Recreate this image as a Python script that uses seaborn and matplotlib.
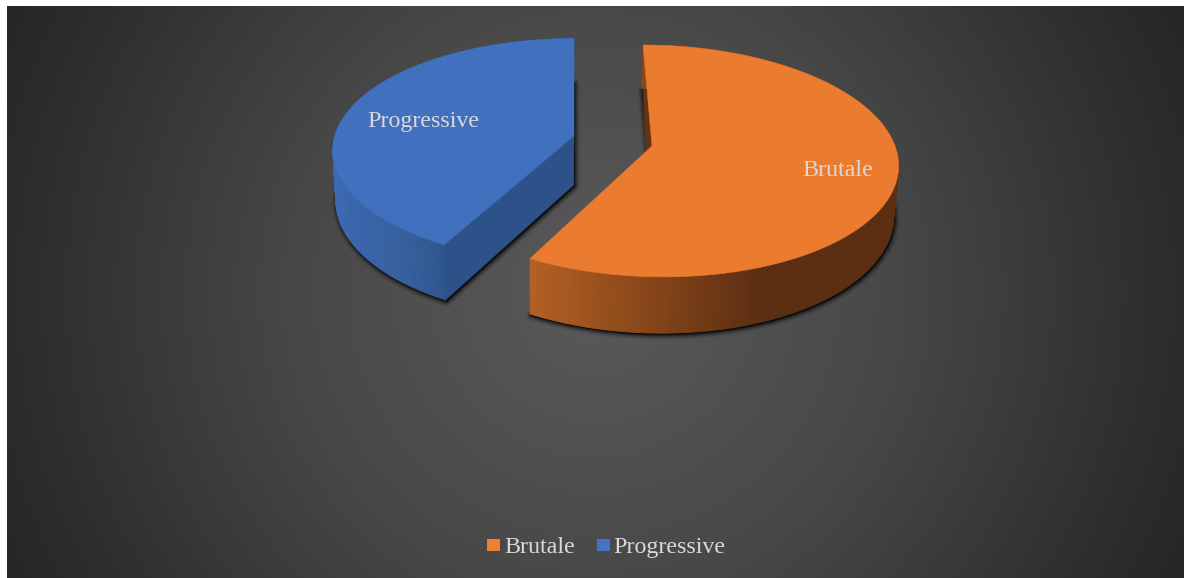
import numpy as np
import matplotlib
matplotlib.use("Agg")
import matplotlib.pyplot as plt
from matplotlib.colors import LinearSegmentedColormap, to_rgb
from matplotlib.patches import Polygon, Rectangle
import seaborn as sns

# Slice values, in drawing order clockwise from twelve o'clock
categories = ["Brutale", "Progressive"]
shares = [58, 42]

sns.set_theme(style="white")
plt.rcParams["font.family"] = ["Liberation Serif", "DejaVu Serif"]

palette = sns.color_palette(["#EF7F32", "#4472C4"])
faces = sns.color_palette(["#EA7B2F", "#4170BE"])
TEXT = "#D9D9D9"
FONT = 17.3

W, H = 1184, 578
fig = plt.figure(figsize=(W / 100, H / 100), dpi=100, facecolor="white")
ax = fig.add_axes([0, 0, 1, 1])
ax.set_xlim(0, W)
ax.set_ylim(H, 0)
ax.axis("off")

# Radial backdrop of the chart area
px, py = np.meshgrid(np.arange(7, W) + 0.5, np.arange(6, H) + 0.5)
dist = np.hypot(px - 595, py - 292) / np.hypot(590, 292)
backdrop = LinearSegmentedColormap.from_list(
    "backdrop", [(0.0, "#5A5A5A"), (0.45, "#484848"), (0.9, "#2B2B2B"), (1.0, "#262626")])
ax.imshow(dist, cmap=backdrop, vmin=0, vmax=1, extent=(7, W, H, 6),
          aspect="auto", interpolation="bilinear", zorder=0)
ax.set_xlim(0, W)
ax.set_ylim(H, 0)

# Perspective projection of the exploded disc
AXIS_X = 574.0
TILT = 0.129
THICK = 49.0
LOW_X, LOW_S = 540.0, 0.986


def rim(theta, apex, rx, ry):
    w = 1 + TILT * np.cos(theta)
    return (AXIS_X + (apex[0] - AXIS_X + rx * np.sin(theta)) / w,
            apex[1] - ry * np.cos(theta) / w)


def lower(x, y, theta=None):
    w = 1.0 if theta is None else 1 + TILT * np.cos(theta)
    return LOW_X + (np.asarray(x) - LOW_X) * LOW_S, np.asarray(y) + THICK / w


def poly(xs, ys, color, z, **kw):
    ax.add_patch(Polygon(np.column_stack([xs, ys]), closed=True, facecolor=color,
                         edgecolor=kw.pop("edgecolor", color),
                         linewidth=kw.pop("linewidth", 0.4), zorder=z, **kw))


def drop_shadow(xs, ys, z):
    # Soft dark halo around the underside of a slice
    pts = np.column_stack([np.asarray(xs) + 1.0, np.asarray(ys) + 1.5])
    for lw, alpha in [(8, 0.05), (6, 0.09), (4.5, 0.14), (3, 0.22), (1.5, 0.32)]:
        ax.add_patch(Polygon(pts, closed=True, facecolor="black", edgecolor="black",
                             linewidth=lw, alpha=alpha, joinstyle="round", zorder=z))


def wall_color(x, stops):
    xs = [s[0] for s in stops]
    rgb = np.array([to_rgb(s[1]) for s in stops])
    return tuple(np.interp(x, xs, rgb[:, i]) for i in range(3))


def slice3d(start, sweep, apex, rx, ry, top, stops, cut, z):
    theta = np.radians(np.linspace(start, start + sweep, 260))
    rim_x, rim_y = rim(theta, apex, rx, ry)
    low_x, low_y = lower(rim_x, rim_y, theta)
    apex_low = lower(apex[0], apex[1])

    drop_shadow(np.r_[apex_low[0], low_x], np.r_[apex_low[1], low_y], z)

    # Back cut face, showing only where it leans out past the top
    if cut["back"] is not None:
        poly([rim_x[0], low_x[0] + cut["shift"], apex_low[0] - 3.0, apex[0]],
             [rim_y[0], low_y[0], apex_low[1], apex[1]], cut["back"], z + 1)

    # Outer wall, shaded in vertical bands
    for i in range(len(theta) - 1):
        c = wall_color(0.5 * (rim_x[i] + rim_x[i + 1]), stops)
        poly([rim_x[i], rim_x[i + 1], low_x[i + 1], low_x[i]],
             [rim_y[i], rim_y[i + 1], low_y[i + 1], low_y[i]], c, z + 2, linewidth=0.6)

    # Front cut face from the apex to the near rim corner
    if cut["front"] is not None:
        end = cut["end"]
        poly([apex[0], rim_x[end], low_x[end], apex_low[0]],
             [apex[1], rim_y[end], low_y[end], apex_low[1]], cut["front"], z + 3)

    poly(np.r_[apex[0], rim_x], np.r_[apex[1], rim_y], top, z + 4)


sweeps = 360 * np.array(shares) / np.sum(shares)

orange_wall = [(529, "#B46125"), (650, "#874619"), (760, "#5C2F12"), (900, "#5C2F12")]
blue_wall = [(332, "#3D69B4"), (400, "#38629F"), (445, "#2F568F"), (460, "#2D5289")]

slice3d(sweeps[0], sweeps[1], (574.0, 136.0), 239.0, 110.0, faces[1], blue_wall,
        {"back": None, "shift": 0, "front": "#2D5289", "end": 0}, 10)
slice3d(0.0, sweeps[0], (652.0, 146.0), 243.0, 114.0, faces[0], orange_wall,
        {"back": "#643312", "shift": 1.5, "front": None, "end": -1}, 20)

ax.text(423, 121, categories[1], color=TEXT, fontsize=FONT, ha="center", va="center", zorder=40)
ax.text(838, 170, categories[0], color=TEXT, fontsize=FONT, ha="center", va="center", zorder=40)

# Legend key: colour squares and names on one shared baseline
for key_x, text_x, name, color in zip((487, 597), (504, 613), categories, palette):
    ax.add_patch(Rectangle((key_x, 539), 13, 12, facecolor=color, edgecolor="none", zorder=40))
    ax.text(text_x, 553, name, color=TEXT, fontsize=FONT, ha="left", va="baseline", zorder=40)

fig.savefig("out.png", dpi=100, facecolor="white")
